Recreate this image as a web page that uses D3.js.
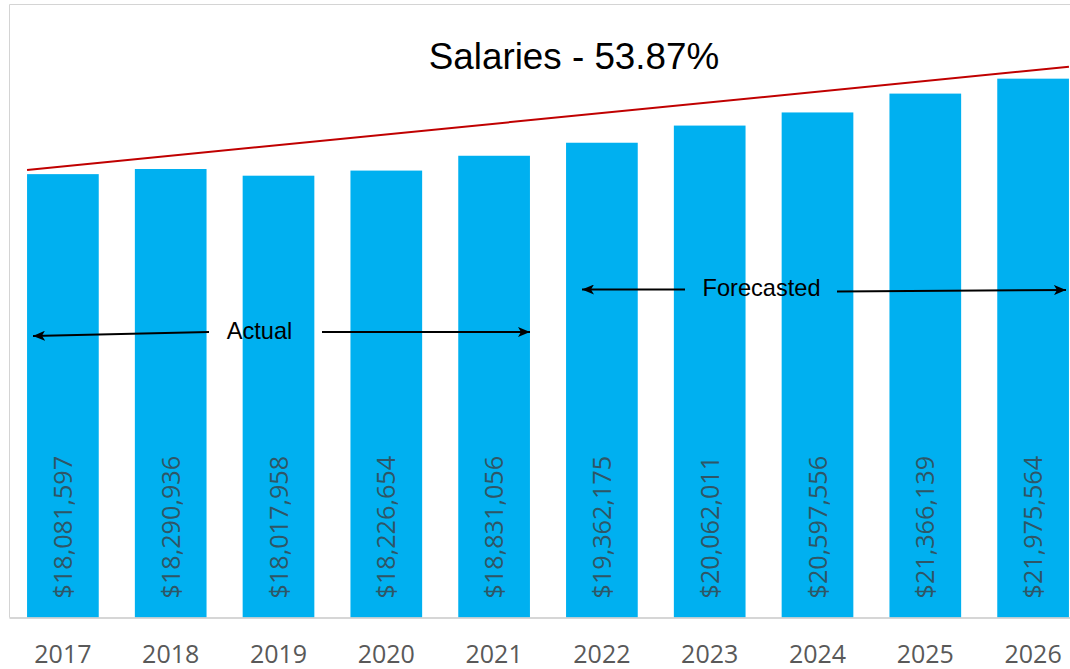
<!DOCTYPE html>
<html>
<head>
<meta charset="utf-8">
<script src="https://cdn.jsdelivr.net/npm/d3@7"></script>
<style>
  html, body { margin: 0; padding: 0; background: #ffffff; }
  svg { display: block; }
</style>
</head>
<body>
<div id="chart"></div>
<script>
// Salary totals by year (2017–2021 actual, 2022–2026 forecast)
const years = ["2017", "2018", "2019", "2020", "2021", "2022", "2023", "2024", "2025", "2026"];
const salaries = [18081597, 18290936, 18017958, 18226654, 18831056, 19362175, 20062011, 20597556, 21366139, 21975564];
const titleText = "Salaries - 53.87%";
const yDomain = [0, 25000000];
// Growth trend line: value at the left edge of the first bar and at the right edge of the last bar
const trendStartValue = 18250000;
const trendEndValue = 22460000;

const W = 1070, H = 669;
const plot = { left: 9.5, top: 4.5, bottom: 617.5, bandEnd: 1087 };

const svg = d3.select("#chart").append("svg")
  .attr("width", W).attr("height", H);

const x = d3.scaleBand()
  .domain(years)
  .range([plot.left - 0.5, plot.bandEnd])
  .paddingInner(0.335)
  .paddingOuter(0.1675);

const y = d3.scaleLinear()
  .domain(yDomain)
  .range([plot.bottom, plot.top]);

const data = years.map((yr, i) => ({ year: yr, value: salaries[i] }));

// Frame: top and left border
svg.append("line")
  .attr("x1", plot.left).attr("x2", W)
  .attr("y1", plot.top).attr("y2", plot.top)
  .attr("stroke", "#d4d4d4").attr("stroke-width", 1);
svg.append("line")
  .attr("x1", plot.left).attr("x2", plot.left)
  .attr("y1", plot.top).attr("y2", plot.bottom)
  .attr("stroke", "#d4d4d4").attr("stroke-width", 1);

// Bars
svg.append("g").selectAll("rect")
  .data(data)
  .join("rect")
  .attr("x", d => x(d.year))
  .attr("y", d => y(d.value))
  .attr("width", x.bandwidth())
  .attr("height", d => y(0) - y(d.value))
  .attr("fill", "#00b0f0");

// Baseline / category axis
const xAxis = d3.axisBottom(x).tickSize(0).tickPadding(0);
const axisG = svg.append("g")
  .attr("transform", `translate(0,${plot.bottom})`)
  .call(xAxis);
axisG.select(".domain")
  .attr("d", `M${plot.left},0.5H${W}`)
  .attr("stroke", "#c8c8c8").attr("stroke-width", 1.5);
axisG.selectAll(".tick text")
  .attr("y", 45.5)
  .attr("dy", 0)
  .attr("fill", "#595959")
  .style("font-family", "'Open Sans', Lato, sans-serif")
  .style("font-size", "25px");

// Rotated value labels inside the bars
const fmt = d3.format("$,.0f");
svg.append("g").selectAll("text")
  .data(data)
  .join("text")
  .attr("transform", d => `translate(${x(d.year) + x.bandwidth() / 2 + 9},${plot.bottom - 19}) rotate(-90)`)
  .attr("text-anchor", "start")
  .attr("fill", "#2f5666")
  .style("font-family", "'Open Sans', Lato, sans-serif")
  .style("font-size", "25.2px")
  .text(d => fmt(d.value));

// Trend line
svg.append("line")
  .attr("x1", x(years[0]))
  .attr("y1", y(trendStartValue))
  .attr("x2", x(years[years.length - 1]) + x.bandwidth())
  .attr("y2", y(trendEndValue))
  .attr("stroke", "#c00000")
  .attr("stroke-width", 2);

// Title
svg.append("text")
  .attr("x", 574).attr("y", 69)
  .attr("text-anchor", "middle")
  .attr("fill", "#000000")
  .style("font-family", "'Liberation Sans', Arial, sans-serif")
  .style("font-size", "36.8px")
  .text(titleText);

// Period annotations with arrows
const defs = svg.append("defs");
defs.append("marker")
  .attr("id", "arrowhead")
  .attr("viewBox", "0 0 12 10")
  .attr("refX", 12).attr("refY", 5)
  .attr("markerWidth", 12).attr("markerHeight", 10)
  .attr("markerUnits", "userSpaceOnUse")
  .attr("orient", "auto")
  .append("path")
  .attr("d", "M0,0L12,5L0,10L3,5Z")
  .attr("fill", "#000");

const arrows = [
  { x1: 209, y1: 332, x2: 33, y2: 336 },
  { x1: 322, y1: 332, x2: 530, y2: 332 },
  { x1: 685, y1: 289.5, x2: 582, y2: 289.5 },
  { x1: 837, y1: 291.5, x2: 1066, y2: 290 }
];
svg.append("g").selectAll("line")
  .data(arrows)
  .join("line")
  .attr("x1", d => d.x1).attr("y1", d => d.y1)
  .attr("x2", d => d.x2).attr("y2", d => d.y2)
  .attr("stroke", "#000").attr("stroke-width", 2)
  .attr("marker-end", "url(#arrowhead)");

const notes = [
  { text: "Actual", x: 259.5, y: 339 },
  { text: "Forecasted", x: 761.5, y: 296 }
];
svg.append("g").selectAll("text")
  .data(notes)
  .join("text")
  .attr("x", d => d.x).attr("y", d => d.y)
  .attr("text-anchor", "middle")
  .attr("fill", "#000")
  .style("font-family", "'Liberation Sans', Arial, sans-serif")
  .style("font-size", "23.6px")
  .text(d => d.text);
</script>
</body>
</html>
